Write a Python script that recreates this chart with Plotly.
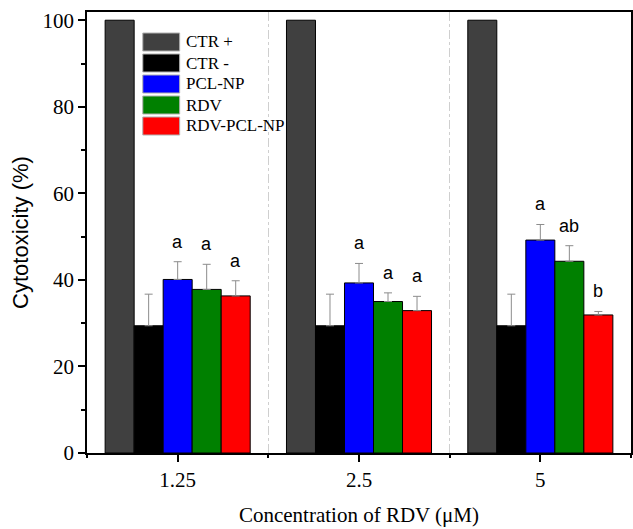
import plotly.graph_objects as go

categories = ["1.25", "2.5", "5"]
series_names = ["CTR +", "CTR -", "PCL-NP", "RDV", "RDV-PCL-NP"]
series_colors = ["#404040", "#000000", "#0000ff", "#008000", "#ff0000"]

ctr_pos = [100, 100, 100]
ctr_neg = [29.4, 29.4, 29.4]
pcl_np = [40.1, 39.3, 49.2]
rdv = [37.8, 35.0, 44.3]
rdv_pcl_np = [36.3, 32.9, 31.9]

ctr_pos_err = [0, 0, 0]
ctr_neg_err = [7.3, 7.3, 7.3]
pcl_np_err = [4.1, 4.5, 3.6]
rdv_err = [5.8, 2.0, 3.6]
rdv_pcl_np_err = [3.5, 3.3, 0.8]

pcl_np_letters = ["a", "a", "a"]
rdv_letters = ["a", "a", "ab"]
rdv_pcl_np_letters = ["a", "a", "b"]

values = [ctr_pos, ctr_neg, pcl_np, rdv, rdv_pcl_np]
errors = [ctr_pos_err, ctr_neg_err, pcl_np_err, rdv_err, rdv_pcl_np_err]
letters = [None, None, pcl_np_letters, rdv_letters, rdv_pcl_np_letters]

W, H = 633, 529
ML, MR, MT, MB = 87, 0, 12, 76
PW, PH = W - ML - MR, H - MT - MB

xpos = list(range(len(categories)))
fig = go.Figure()
for name, col, vals, errs in zip(series_names, series_colors, values, errors):
    show_err = any(e > 0 for e in errs)
    fig.add_trace(go.Bar(
        x=xpos, y=vals, name=name,
        marker=dict(color=col, line=dict(color="#000000", width=1)),
        error_y=dict(type="data", array=errs, arrayminus=[0] * len(errs), symmetric=False,
                     color="#8c8c8c", thickness=1, width=4, visible=show_err),
        showlegend=False,
    ))

# significance letters
n = len(series_names)
group_w = 0.8
bar_w = group_w / n
for si, labs in enumerate(letters):
    if labs is None:
        continue
    for ci, lab in enumerate(labs):
        xc = xpos[ci] - group_w / 2 + bar_w * (si + 0.5)
        fig.add_annotation(x=xc, y=values[si][ci] + errors[si][ci], text=lab,
                           showarrow=False, yanchor="bottom", yshift=8,
                           font=dict(family="Liberation Sans", size=18, color="#000000"))

# custom legend
def px_x(p):
    return (p - ML) / PW

def px_y(p):
    return (MT + PH - p) / PH

for i, (name, col) in enumerate(zip(series_names, series_colors)):
    top = 33 + i * 21
    fig.add_shape(type="rect", xref="paper", yref="paper",
                  x0=px_x(143), x1=px_x(180), y0=px_y(top + 18), y1=px_y(top),
                  fillcolor=col, line=dict(color="#b0b0b0", width=1))
    fig.add_annotation(xref="paper", yref="paper", x=px_x(184), y=px_y(top + 9),
                       text=name, showarrow=False, xanchor="left", yanchor="middle",
                       font=dict(family="Liberation Serif", size=17, color="#000000"))

fig.update_layout(
    width=W, height=H,
    margin=dict(l=ML, r=MR, t=MT, b=MB),
    paper_bgcolor="white", plot_bgcolor="white",
    barmode="group", bargap=0.2, bargroupgap=0,
    showlegend=False,
)
fig.update_xaxes(
    range=[-0.5, 2.5], tickvals=xpos, ticktext=categories,
    showline=True, linecolor="black", linewidth=1.5, mirror=True,
    ticks="outside", ticklen=7, tickwidth=1.5, tickcolor="black",
    showgrid=False, zeroline=False,
    minor=dict(tick0=0.5, dtick=1, ticks="outside", ticklen=3, tickwidth=1.5, tickcolor="black",
               showgrid=True, gridcolor="#cfcfcf", griddash="dashdot", gridwidth=1),
    tickfont=dict(family="Liberation Serif", size=21, color="black"),
    title=dict(text="Concentration of RDV (μM)", standoff=16,
               font=dict(family="Liberation Serif", size=21, color="black")),
)
fig.update_yaxes(
    range=[0, 101.9], tickvals=[0, 20, 40, 60, 80, 100],
    showline=True, linecolor="black", linewidth=1.5, mirror=True,
    ticks="outside", ticklen=7, tickwidth=1.5, tickcolor="black",
    showgrid=False, zeroline=False,
    minor=dict(tickvals=[10, 30, 50, 70, 90], ticks="outside", ticklen=4, tickwidth=1.5,
               tickcolor="black", showgrid=False),
    tickfont=dict(family="Liberation Serif", size=21, color="black"),
    title=dict(text="Cytotoxicity (%)", standoff=8,
               font=dict(family="Liberation Sans", size=22, color="black")),
)

fig.write_html("out.html")
